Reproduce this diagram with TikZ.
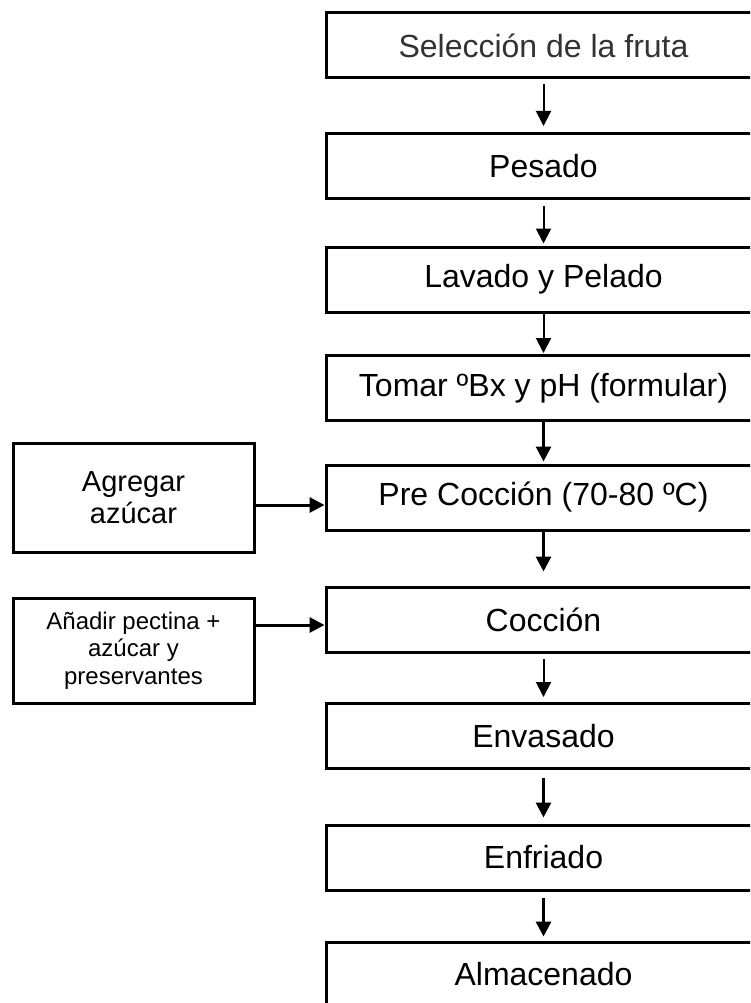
\documentclass[tikz,border=0pt]{standalone}
\usepackage{fontspec}
\setmainfont{Liberation Sans}
\usetikzlibrary{arrows.meta}
\definecolor{greytext}{HTML}{333333}
\tikzset{
  mainbox/.style={draw=black, line width=3pt, rectangle, minimum width=435pt, minimum height=65pt, inner sep=0pt, font=\fontsize{32}{37}\selectfont},
  sidebox/.style={draw=black, line width=3pt, rectangle, minimum width=241pt, inner sep=0pt, align=center},
  thinarr/.style={line width=2pt, -{Triangle[length=15pt,width=15pt]}},
  thickarr/.style={line width=3pt, -{Triangle[length=15pt,width=15pt]}}
}
\begin{document}
\begin{tikzpicture}[x=1pt,y=-1pt]
\useasboundingbox (0,0) rectangle (750,1003);
\clip (0,0) rectangle (750,1003);
\node[mainbox, text=greytext] (b1) at (543.5,45.5) {Selección de la fruta};
\node[mainbox] (b2) at (543.5,166) {Pesado};
\node[mainbox] (b3) at (543.5,279.5) {Lavado y Pelado};
\node[mainbox] (b4) at (543.5,388) {Tomar ºBx y pH (formular)};
\node[mainbox] (b5) at (543.5,497.5) {Pre Cocción (70-80 ºC)};
\node[mainbox] (b6) at (543.5,619.5) {Cocción};
\node[mainbox] (b7) at (543.5,736) {Envasado};
\node[mainbox] (b8) at (543.5,857.5) {Enfriado};
\node[mainbox] (b9) at (543.5,974.5) {Almacenado};
\node[sidebox, minimum height=109pt, font=\fontsize{29}{32}\selectfont] (ag) at (133.5,497.5) {Agregar\\azúcar};
\node[sidebox, minimum height=105pt, font=\fontsize{24}{27.5}\selectfont] (an) at (133.5,650.5) {Añadir pectina +\\azúcar y\\preservantes};
\draw[thinarr, shorten <=5pt, shorten >=6pt] (b1.south) -- (b2.north);
\draw[thinarr, shorten <=6pt, shorten >=2pt] (b2.south) -- (b3.north);
\draw[thinarr, shorten <=0pt, shorten >=1pt] (b3.south) -- (b4.north);
\draw[thickarr, shorten <=0pt, shorten >=2pt] (b4.south) -- (b5.north);
\draw[thickarr, shorten <=0pt, shorten >=14pt] (b5.south) -- (b6.north);
\draw[thinarr, shorten <=5pt, shorten >=5pt] (b6.south) -- (b7.north);
\draw[thickarr, shorten <=8pt, shorten >=6pt] (b7.south) -- (b8.north);
\draw[thickarr, shorten <=6pt, shorten >=4pt] (b8.south) -- (b9.north);
\coordinate (h1) at (0,505);
\coordinate (h2) at (0,625);
\draw[thickarr] (ag.east |- h1) -- (b5.west |- h1);
\draw[thickarr] (an.east |- h2) -- (b6.west |- h2);
\end{tikzpicture}
\end{document}
